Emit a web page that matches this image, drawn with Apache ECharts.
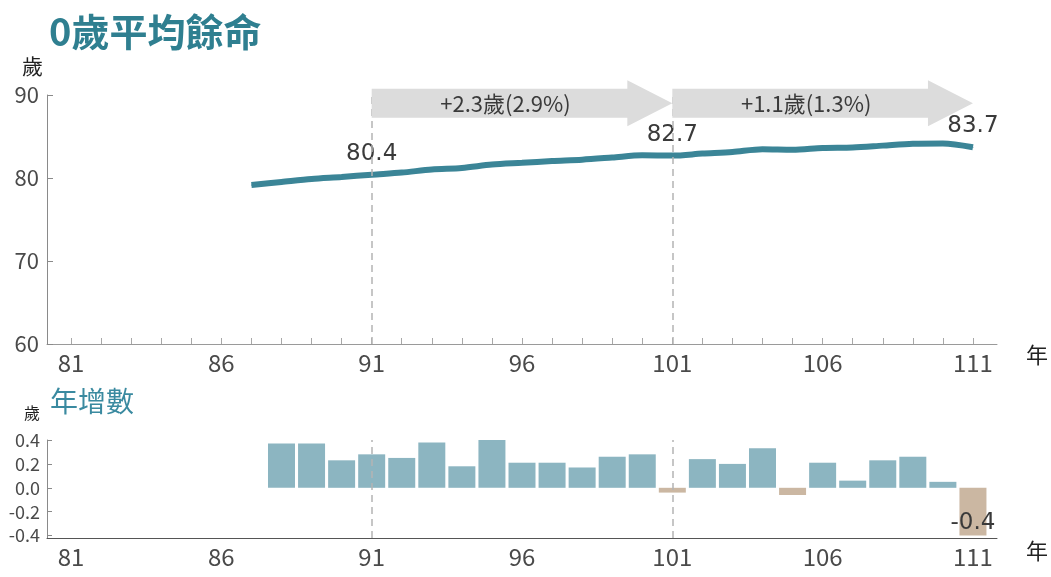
<!DOCTYPE html>
<html>
<head>
<meta charset="utf-8">
<script src="https://cdn.jsdelivr.net/npm/echarts@6/dist/echarts.min.js"></script>
<style>
  html, body { margin: 0; padding: 0; background: #fff; }
  #chart { width: 1051px; height: 577px; }
</style>
</head>
<body>
<div id="chart"></div>
<script>
// 0歲平均餘命 (民國年)
const lifeYears = [87, 88, 89, 90, 91, 92, 93, 94, 95, 96, 97, 98, 99, 100, 101, 102, 103, 104, 105, 106, 107, 108, 109, 110, 111];
const lifeExpectancy = [79.15, 79.52, 79.89, 80.12, 80.40, 80.65, 81.03, 81.21, 81.62, 81.83, 82.04, 82.21, 82.47, 82.74, 82.70, 82.94, 83.14, 83.47, 83.41, 83.62, 83.68, 83.90, 84.12, 84.16, 83.70];
const labeledYears = [91, 101, 111];

// 年增數
const changeYears = [88, 89, 90, 91, 92, 93, 94, 95, 96, 97, 98, 99, 100, 101, 102, 103, 104, 105, 106, 107, 108, 109, 110, 111];
const yearlyChange = [0.37, 0.37, 0.23, 0.28, 0.25, 0.38, 0.18, 0.41, 0.21, 0.21, 0.17, 0.26, 0.28, -0.04, 0.24, 0.20, 0.33, -0.06, 0.21, 0.06, 0.23, 0.26, 0.05, -0.4];

// axis ticks and labels
const tickYears = [81, 82, 83, 84, 85, 86, 87, 88, 89, 90, 91, 92, 93, 94, 95, 96, 97, 98, 99, 100, 101, 102, 103, 104, 105, 106, 107, 108, 109, 110, 111];
const labelYears = [81, 86, 91, 96, 101, 106, 111];
const changeTicks = [-0.4, -0.2, 0, 0.2, 0.4];

// 期間增幅
const periodStart = [91, 101];
const periodEnd = [101, 111];
const periodLabels = ['+2.3歲(2.9%)', '+1.1歲(1.3%)'];
const arrowLevel = 89;

const FONT = '"Noto Sans CJK TC", "Noto Sans", sans-serif';
const VALUE_FONT = '"DejaVu Sans", "Noto Sans", sans-serif';
const TEAL = '#2f7f90';
const LINE = '#3b8597';
const BAR = '#8cb5c1';
const BAR_NEG = '#cbb7a2';
const TEXT = '#3a3a3a';

const chart = echarts.init(document.getElementById('chart'), null, { renderer: 'canvas' });

const dividerLine = {
  silent: true,
  symbol: 'none',
  label: { show: false },
  lineStyle: { type: [7, 5], color: '#b4b4b4', width: 1.5 },
  data: periodStart.map(y => ({ xAxis: y }))
};

const xCommon = {
  type: 'value',
  min: 80.2,
  max: 111.8,
  splitLine: { show: false },
  axisLabel: {
    customValues: labelYears,
    fontSize: 24,
    color: '#4a4a4a',
    margin: 7,
    fontFamily: FONT
  }
};

const option = {
  animation: false,
  textStyle: { fontFamily: FONT },
  title: [
    {
      text: '0歲平均餘命',
      left: 44, top: 8,
      textStyle: { fontSize: 38, fontWeight: 'bold', color: TEAL, fontFamily: FONT }
    },
    {
      text: '年增數',
      left: 45, top: 382,
      textStyle: { fontSize: 28, fontWeight: 'normal', color: '#3a8aa0', fontFamily: FONT }
    }
  ],
  graphic: [
    { type: 'text', left: 22, top: 56, style: { text: '歲', fill: '#222', font: '21px ' + FONT } },
    { type: 'text', left: 1026, top: 344, style: { text: '年', fill: '#222', font: '22px ' + FONT } },
    { type: 'text', left: 24, top: 405, style: { text: '歲', fill: '#222', font: '16px ' + FONT } },
    { type: 'text', left: 1026, top: 540, style: { text: '年', fill: '#222', font: '22px ' + FONT } }
  ],
  grid: [
    { left: 47, right: 54, top: 95, height: 249 },
    { left: 47, right: 54, top: 440, height: 98 }
  ],
  xAxis: [
    Object.assign({}, xCommon, {
      gridIndex: 0,
      axisLine: { show: true, lineStyle: { color: '#9a9a9a', width: 1 } },
      axisTick: { show: true, inside: true, length: 6, customValues: tickYears, lineStyle: { color: '#a8a8a8' } }
    }),
    Object.assign({}, xCommon, {
      gridIndex: 1,
      axisLine: { show: true, onZero: false, lineStyle: { color: '#555', width: 1 } },
      axisTick: { show: false }
    })
  ],
  yAxis: [
    {
      type: 'value', gridIndex: 0,
      min: 60, max: 90, interval: 10,
      splitLine: { show: false },
      axisLine: { show: true, lineStyle: { color: '#8a8a8a' } },
      axisTick: { show: true, inside: true, length: 6, lineStyle: { color: '#8a8a8a' } },
      axisLabel: { fontSize: 22, color: '#4a4a4a', margin: 8, fontFamily: FONT }
    },
    {
      type: 'value', gridIndex: 1,
      min: -0.42, max: 0.4,
      splitLine: { show: false },
      axisLine: { show: true, lineStyle: { color: '#8a8a8a' } },
      axisTick: { show: true, inside: true, length: 5, customValues: changeTicks, lineStyle: { color: '#8a8a8a' } },
      axisLabel: {
        customValues: changeTicks,
        fontSize: 18, color: '#4a4a4a', margin: 7, fontFamily: FONT,
        formatter: v => v.toFixed(1)
      }
    }
  ],
  series: [
    {
      name: '0歲平均餘命',
      type: 'line',
      xAxisIndex: 0, yAxisIndex: 0,
      smooth: 0.3,
      showSymbol: true,
      symbol: 'circle',
      symbolSize: 1,
      lineStyle: { color: LINE, width: 6 },
      itemStyle: { color: LINE },
      data: lifeYears.map((y, i) => ({
        value: [y, lifeExpectancy[i]],
        label: {
          show: labeledYears.includes(y),
          position: 'top',
          distance: 9,
          fontSize: 23,
          color: TEXT,
          fontFamily: VALUE_FONT,
          formatter: p => p.value[1].toFixed(1)
        }
      })),
      markLine: dividerLine,
      z: 3
    },
    {
      name: '期間增幅',
      type: 'custom',
      xAxisIndex: 0, yAxisIndex: 0,
      clip: false,
      z: 5,
      data: periodStart.map((s, i) => [s, periodEnd[i], arrowLevel, periodLabels[i]]),
      renderItem: (params, api) => {
        const a = api.coord([api.value(0), api.value(2)]);
        const b = api.coord([api.value(1), api.value(2)]);
        const cy = a[1];
        const bodyHalf = 14.5, headHalf = 23, headLen = 45;
        const sx = a[0], ex = b[0], hx = ex - headLen;
        return {
          type: 'group',
          children: [
            {
              type: 'polygon',
              shape: {
                points: [
                  [sx, cy - bodyHalf], [hx, cy - bodyHalf], [hx, cy - headHalf], [ex, cy],
                  [hx, cy + headHalf], [hx, cy + bodyHalf], [sx, cy + bodyHalf]
                ]
              },
              style: { fill: '#dcdcdc' }
            },
            {
              type: 'text',
              x: (sx + hx) / 2 + 6,
              y: cy,
              style: {
                text: periodLabels[params.dataIndex],
                font: '22px ' + FONT,
                fill: TEXT,
                align: 'center',
                verticalAlign: 'middle'
              }
            }
          ]
        };
      }
    },
    {
      name: '年增數',
      type: 'bar',
      xAxisIndex: 1, yAxisIndex: 1,
      barWidth: 27,
      data: changeYears.map((y, i) => ({
        value: [y, yearlyChange[i]],
        itemStyle: { color: yearlyChange[i] < 0 ? BAR_NEG : BAR },
        label: {
          show: y === 111,
          position: 'insideBottom',
          distance: 1,
          fontSize: 23,
          color: TEXT,
          fontFamily: VALUE_FONT,
          formatter: p => p.value[1].toFixed(1)
        }
      })),
      markLine: dividerLine,
      z: 2
    }
  ]
};

chart.setOption(option);
</script>
</body>
</html>
